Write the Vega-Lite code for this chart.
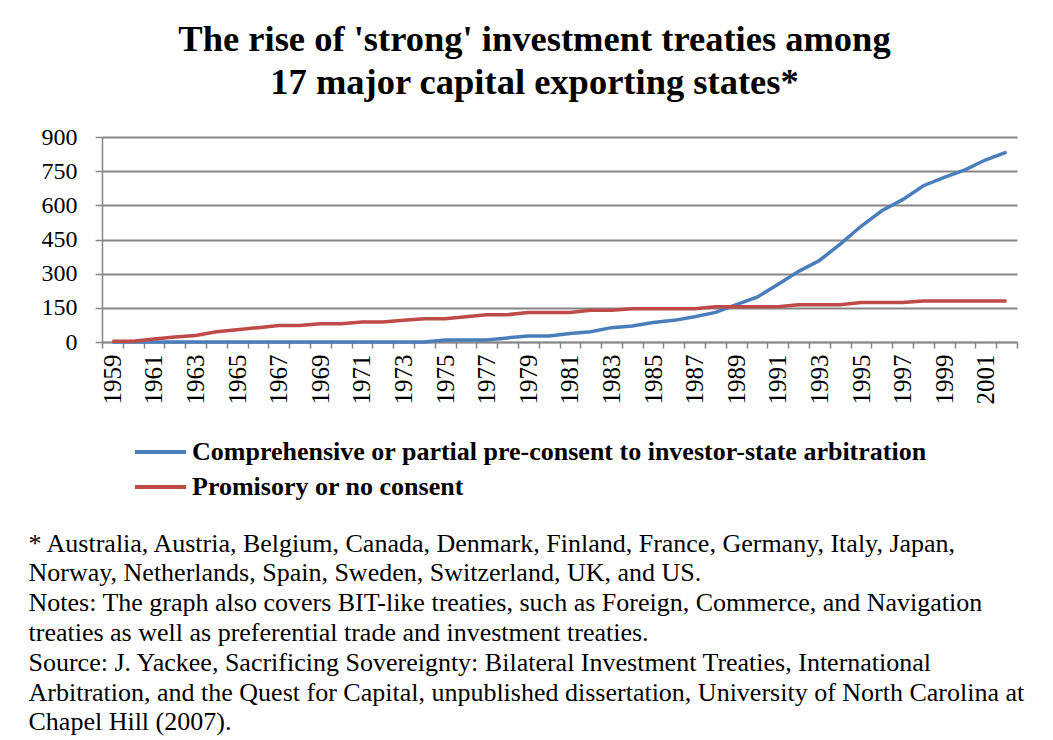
{
  "$schema": "https://vega.github.io/schema/vega-lite/v6.json",
  "width": 915,
  "height": 205,
  "autosize": {"type": "none"},
  "padding": {"left": 102, "top": 137, "right": 36, "bottom": 398},
  "background": "white",
  "title": {
    "text": ["The rise of 'strong' investment treaties among", "17 major capital exporting states*"],
    "font": "Liberation Serif",
    "fontSize": 36.5,
    "fontWeight": "bold",
    "lineHeight": 43,
    "color": "black",
    "anchor": "middle",
    "dx": -25,
    "offset": 24
  },
  "data": {
    "values": [
      {"year": "1959", "series": "Comprehensive or partial pre-consent to investor-state arbitration", "value": 0},
      {"year": "1960", "series": "Comprehensive or partial pre-consent to investor-state arbitration", "value": 0},
      {"year": "1961", "series": "Comprehensive or partial pre-consent to investor-state arbitration", "value": 0},
      {"year": "1962", "series": "Comprehensive or partial pre-consent to investor-state arbitration", "value": 0},
      {"year": "1963", "series": "Comprehensive or partial pre-consent to investor-state arbitration", "value": 0},
      {"year": "1964", "series": "Comprehensive or partial pre-consent to investor-state arbitration", "value": 0},
      {"year": "1965", "series": "Comprehensive or partial pre-consent to investor-state arbitration", "value": 0},
      {"year": "1966", "series": "Comprehensive or partial pre-consent to investor-state arbitration", "value": 0},
      {"year": "1967", "series": "Comprehensive or partial pre-consent to investor-state arbitration", "value": 0},
      {"year": "1968", "series": "Comprehensive or partial pre-consent to investor-state arbitration", "value": 0},
      {"year": "1969", "series": "Comprehensive or partial pre-consent to investor-state arbitration", "value": 0},
      {"year": "1970", "series": "Comprehensive or partial pre-consent to investor-state arbitration", "value": 0},
      {"year": "1971", "series": "Comprehensive or partial pre-consent to investor-state arbitration", "value": 0},
      {"year": "1972", "series": "Comprehensive or partial pre-consent to investor-state arbitration", "value": 0},
      {"year": "1973", "series": "Comprehensive or partial pre-consent to investor-state arbitration", "value": 0},
      {"year": "1974", "series": "Comprehensive or partial pre-consent to investor-state arbitration", "value": 0},
      {"year": "1975", "series": "Comprehensive or partial pre-consent to investor-state arbitration", "value": 9},
      {"year": "1976", "series": "Comprehensive or partial pre-consent to investor-state arbitration", "value": 9},
      {"year": "1977", "series": "Comprehensive or partial pre-consent to investor-state arbitration", "value": 9},
      {"year": "1978", "series": "Comprehensive or partial pre-consent to investor-state arbitration", "value": 18},
      {"year": "1979", "series": "Comprehensive or partial pre-consent to investor-state arbitration", "value": 26},
      {"year": "1980", "series": "Comprehensive or partial pre-consent to investor-state arbitration", "value": 26},
      {"year": "1981", "series": "Comprehensive or partial pre-consent to investor-state arbitration", "value": 37},
      {"year": "1982", "series": "Comprehensive or partial pre-consent to investor-state arbitration", "value": 45},
      {"year": "1983", "series": "Comprehensive or partial pre-consent to investor-state arbitration", "value": 63},
      {"year": "1984", "series": "Comprehensive or partial pre-consent to investor-state arbitration", "value": 70},
      {"year": "1985", "series": "Comprehensive or partial pre-consent to investor-state arbitration", "value": 86},
      {"year": "1986", "series": "Comprehensive or partial pre-consent to investor-state arbitration", "value": 95},
      {"year": "1987", "series": "Comprehensive or partial pre-consent to investor-state arbitration", "value": 111},
      {"year": "1988", "series": "Comprehensive or partial pre-consent to investor-state arbitration", "value": 130},
      {"year": "1989", "series": "Comprehensive or partial pre-consent to investor-state arbitration", "value": 164},
      {"year": "1990", "series": "Comprehensive or partial pre-consent to investor-state arbitration", "value": 197},
      {"year": "1991", "series": "Comprehensive or partial pre-consent to investor-state arbitration", "value": 252},
      {"year": "1992", "series": "Comprehensive or partial pre-consent to investor-state arbitration", "value": 310},
      {"year": "1993", "series": "Comprehensive or partial pre-consent to investor-state arbitration", "value": 358},
      {"year": "1994", "series": "Comprehensive or partial pre-consent to investor-state arbitration", "value": 430},
      {"year": "1995", "series": "Comprehensive or partial pre-consent to investor-state arbitration", "value": 508},
      {"year": "1996", "series": "Comprehensive or partial pre-consent to investor-state arbitration", "value": 576},
      {"year": "1997", "series": "Comprehensive or partial pre-consent to investor-state arbitration", "value": 625},
      {"year": "1998", "series": "Comprehensive or partial pre-consent to investor-state arbitration", "value": 686},
      {"year": "1999", "series": "Comprehensive or partial pre-consent to investor-state arbitration", "value": 723},
      {"year": "2000", "series": "Comprehensive or partial pre-consent to investor-state arbitration", "value": 756},
      {"year": "2001", "series": "Comprehensive or partial pre-consent to investor-state arbitration", "value": 800},
      {"year": "2002", "series": "Comprehensive or partial pre-consent to investor-state arbitration", "value": 834},
      {"year": "1959", "series": "Promisory or no consent", "value": 3},
      {"year": "1960", "series": "Promisory or no consent", "value": 3},
      {"year": "1961", "series": "Promisory or no consent", "value": 13},
      {"year": "1962", "series": "Promisory or no consent", "value": 22},
      {"year": "1963", "series": "Promisory or no consent", "value": 29},
      {"year": "1964", "series": "Promisory or no consent", "value": 45},
      {"year": "1965", "series": "Promisory or no consent", "value": 54},
      {"year": "1966", "series": "Promisory or no consent", "value": 63},
      {"year": "1967", "series": "Promisory or no consent", "value": 72},
      {"year": "1968", "series": "Promisory or no consent", "value": 72},
      {"year": "1969", "series": "Promisory or no consent", "value": 80},
      {"year": "1970", "series": "Promisory or no consent", "value": 80},
      {"year": "1971", "series": "Promisory or no consent", "value": 88},
      {"year": "1972", "series": "Promisory or no consent", "value": 88},
      {"year": "1973", "series": "Promisory or no consent", "value": 95},
      {"year": "1974", "series": "Promisory or no consent", "value": 102},
      {"year": "1975", "series": "Promisory or no consent", "value": 102},
      {"year": "1976", "series": "Promisory or no consent", "value": 111},
      {"year": "1977", "series": "Promisory or no consent", "value": 120},
      {"year": "1978", "series": "Promisory or no consent", "value": 120},
      {"year": "1979", "series": "Promisory or no consent", "value": 129},
      {"year": "1980", "series": "Promisory or no consent", "value": 129},
      {"year": "1981", "series": "Promisory or no consent", "value": 130},
      {"year": "1982", "series": "Promisory or no consent", "value": 139},
      {"year": "1983", "series": "Promisory or no consent", "value": 139},
      {"year": "1984", "series": "Promisory or no consent", "value": 146},
      {"year": "1985", "series": "Promisory or no consent", "value": 146},
      {"year": "1986", "series": "Promisory or no consent", "value": 146},
      {"year": "1987", "series": "Promisory or no consent", "value": 146},
      {"year": "1988", "series": "Promisory or no consent", "value": 155},
      {"year": "1989", "series": "Promisory or no consent", "value": 155},
      {"year": "1990", "series": "Promisory or no consent", "value": 155},
      {"year": "1991", "series": "Promisory or no consent", "value": 155},
      {"year": "1992", "series": "Promisory or no consent", "value": 164},
      {"year": "1993", "series": "Promisory or no consent", "value": 164},
      {"year": "1994", "series": "Promisory or no consent", "value": 164},
      {"year": "1995", "series": "Promisory or no consent", "value": 173},
      {"year": "1996", "series": "Promisory or no consent", "value": 173},
      {"year": "1997", "series": "Promisory or no consent", "value": 173},
      {"year": "1998", "series": "Promisory or no consent", "value": 180},
      {"year": "1999", "series": "Promisory or no consent", "value": 180},
      {"year": "2000", "series": "Promisory or no consent", "value": 180},
      {"year": "2001", "series": "Promisory or no consent", "value": 180},
      {"year": "2002", "series": "Promisory or no consent", "value": 180}
    ]
  },
  "mark": {"type": "line", "strokeWidth": 3.5},
  "encoding": {
    "x": {
      "field": "year",
      "type": "ordinal",
      "scale": {"type": "band", "paddingInner": 0, "paddingOuter": 0},
      "axis": {
        "title": [
          "* Australia, Austria, Belgium, Canada, Denmark, Finland, France, Germany, Italy, Japan,",
          "Norway, Netherlands, Spain, Sweden, Switzerland, UK, and US.",
          "Notes: The graph also covers BIT-like treaties, such as Foreign, Commerce, and Navigation",
          "treaties as well as preferential trade and investment treaties.",
          "Source: J. Yackee, Sacrificing Sovereignty: Bilateral Investment Treaties, International",
          "Arbitration, and the Quest for Capital, unpublished dissertation, University of North Carolina at",
          "Chapel Hill (2007)."
        ],
        "titleX": -74,
        "titleY": 209,
        "titleAlign": "left",
        "titleAnchor": "start",
        "titleBaseline": "alphabetic",
        "titleAngle": 0,
        "titleFont": "Liberation Serif",
        "titleFontSize": 26,
        "titleFontWeight": "normal",
        "titleLineHeight": 29.8,
        "titleColor": "black",
        "labelExpr": "toNumber(datum.value) % 2 == 1 ? datum.label : ''",
        "labelAngle": -90,
        "labelFont": "Liberation Serif",
        "labelFontSize": 25,
        "labelColor": "black",
        "labelPadding": 6,
        "labelOverlap": false,
        "tickBand": "extent",
        "tickSize": 6,
        "tickColor": "#868686",
        "tickWidth": 1.5,
        "domainColor": "#868686",
        "domainWidth": 1.5,
        "grid": false
      }
    },
    "y": {
      "field": "value",
      "type": "quantitative",
      "scale": {"domain": [0, 900], "nice": false},
      "axis": {
        "values": [0, 150, 300, 450, 600, 750, 900],
        "title": null,
        "labelFont": "Liberation Serif",
        "labelFontSize": 24,
        "labelColor": "black",
        "labelPadding": 18,
        "tickSize": 7,
        "tickColor": "#868686",
        "tickWidth": 1.5,
        "domainColor": "#868686",
        "domainWidth": 1.5,
        "grid": true,
        "gridColor": "#868686",
        "gridWidth": 2
      }
    },
    "color": {
      "field": "series",
      "type": "nominal",
      "scale": {
        "domain": ["Comprehensive or partial pre-consent to investor-state arbitration", "Promisory or no consent"],
        "range": ["#4A7EBB", "#BE4B48"]
      },
      "legend": {
        "orient": "none",
        "legendX": 31,
        "legendY": 300,
        "title": null,
        "symbolType": "stroke",
        "symbolSize": 2600,
        "symbolStrokeWidth": 4,
        "clipHeight": 30,
        "rowPadding": 5,
        "labelFont": "Liberation Serif",
        "labelFontSize": 26,
        "labelFontWeight": "bold",
        "labelColor": "black",
        "labelOffset": 4,
        "labelLimit": 1000
      }
    }
  },
  "config": {"view": {"stroke": null}}
}
